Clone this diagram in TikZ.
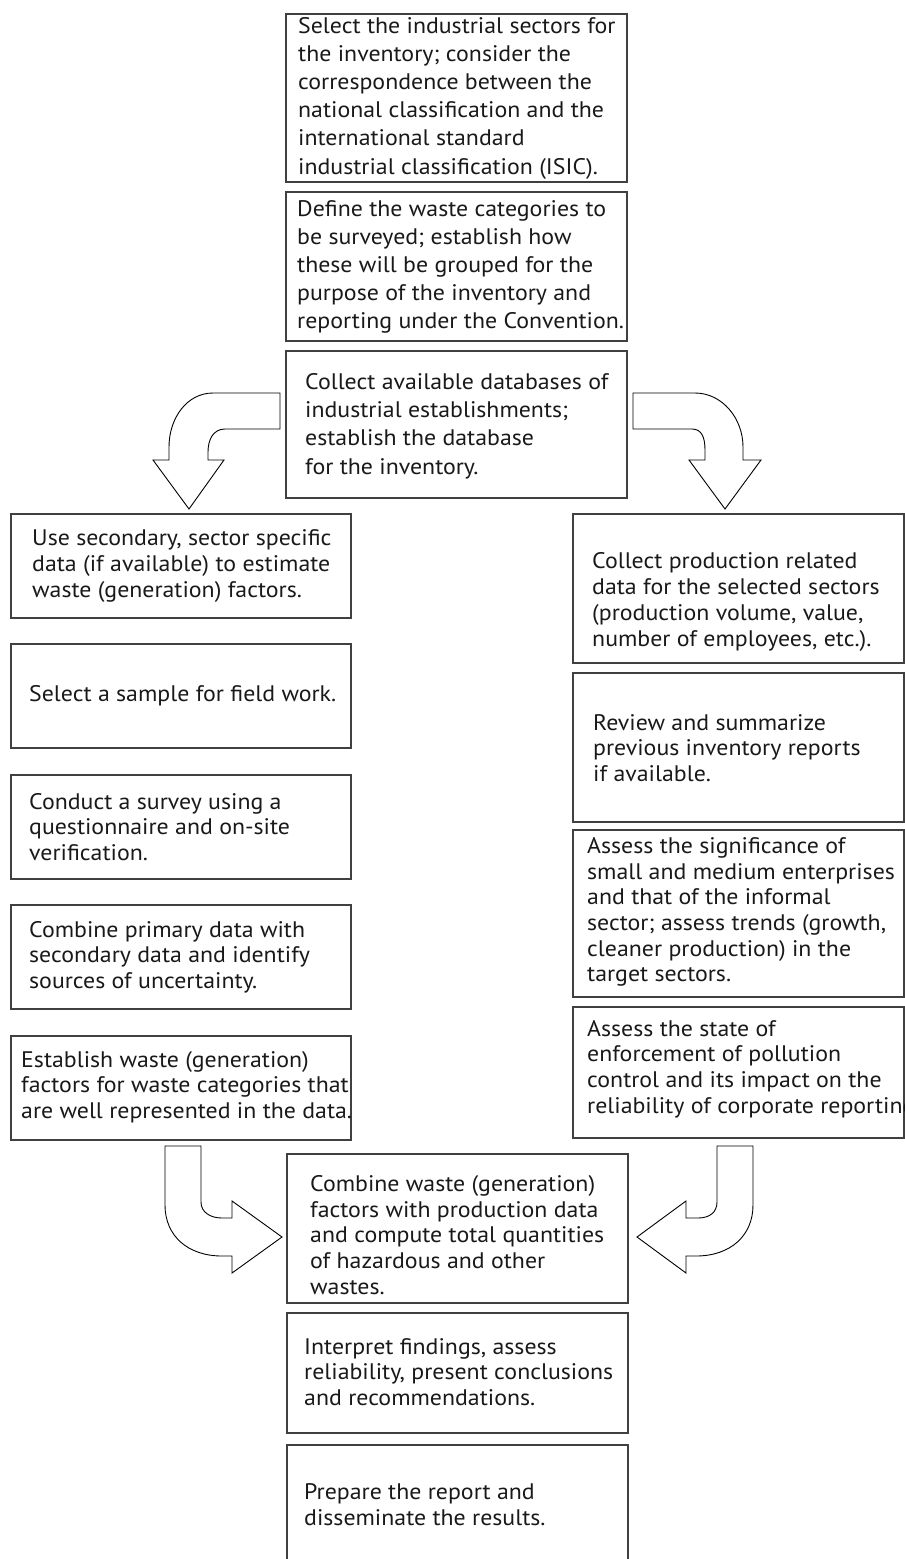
\documentclass[tikz,border=0pt]{standalone}
\usepackage{fontspec}
\setmainfont{PT Sans}[FakeStretch=1.06]
\begin{document}
\begin{tikzpicture}[x=1pt,y=-1pt,
    box/.style={draw=black!75,line width=1.3pt},
    txt/.style={anchor=west,align=left,inner sep=0pt,text=black!90,
      font=\fontsize{22.5}{25.7}\selectfont},
    toptxt/.style={txt,font=\fontsize{22.5}{28.2}\selectfont},
    barrow/.style={draw=black,line width=0.9pt,fill=white,line join=miter}]
  \useasboundingbox (0,0) rectangle (905,1559);

  % middle column, top
  \draw[box] (286,14) rectangle (627,182);
  \node[toptxt] (sectors) at (298,98) {Select the industrial sectors for\\the inventory; consider the\\correspondence between the\\national classification and the\\international standard\\industrial classification (ISIC).};
  \draw[box] (286,192) rectangle (627,341);
  \node[toptxt] (categories) at (297,267) {Define the waste categories to\\be surveyed; establish how\\these will be grouped for the\\purpose of the inventory and\\reporting under the Convention.};
  \draw[box] (286,351) rectangle (627,498);
  \node[toptxt] (database) at (305,426) {Collect available databases of\\industrial establishments;\\establish the database\\for the inventory.};

  % split arrows
  \draw[barrow] (280,393) -- (213,393) .. controls (187,393) and (169,418) .. (169,447)
    -- (169,460) -- (153,460) -- (189,509) -- (224,460) -- (208,460) -- (208,452)
    .. controls (208,440) and (213,429) .. (225,429) -- (280,429) -- cycle;
  \draw[barrow] (633,393) -- (695,393) .. controls (722,393) and (743,418) .. (743,447)
    -- (743,460) -- (761,460) -- (725,509) -- (689,460) -- (705,460) -- (705,450)
    .. controls (705,438) and (702,429) .. (692,429) -- (633,429) -- cycle;

  % left column
  \draw[box] (11,514) rectangle (351,618);
  \node[txt] (secondary) at (32,566) {Use secondary, sector specific\\data (if available) to estimate\\waste (generation) factors.};
  \draw[box] (11,644) rectangle (351,748);
  \node[txt] (sample) at (29,696) {Select a sample for field work.};
  \draw[box] (11,775) rectangle (351,879);
  \node[txt] (survey) at (29,827) {Conduct a survey using a\\questionnaire and on-site\\verification.};
  \draw[box] (11,905) rectangle (351,1009);
  \node[txt] (primary) at (29,957) {Combine primary data with\\secondary data and identify\\sources of uncertainty.};
  \draw[box] (11,1036) rectangle (351,1140);
  \node[txt] (factors) at (21,1087) {Establish waste (generation)\\factors for waste categories that\\are well represented in the data.};

  % right column
  \draw[box] (573,514) rectangle (904,663);
  \node[txt] (production) at (592,602) {Collect production related\\data for the selected sectors\\(production volume, value,\\number of employees, etc.).};
  \draw[box] (573,673) rectangle (904,822);
  \node[txt] (previous) at (593,748) {Review and summarize\\previous inventory reports\\if available.};
  \draw[box] (573,830) rectangle (904,997);
  \node[txt] (significance) at (587,912) {Assess the significance of\\small and medium enterprises\\and that of the informal\\sector; assess trends (growth,\\cleaner production) in the\\target sectors.};
  \draw[box] (573,1007) rectangle (904,1138);
  \node[txt] (enforcement) at (587,1069) {Assess the state of\\enforcement of pollution\\control and its impact on the\\reliability of corporate reporting};

  % merge arrows
  \draw[barrow] (165,1146) -- (201,1146) -- (201,1202) .. controls (201,1212) and (210,1218) .. (222,1218)
    -- (232,1218) -- (232,1201) -- (282,1237) -- (232,1273) -- (232,1256) -- (222,1256)
    .. controls (188,1256) and (165,1236) .. (165,1205) -- cycle;
  \draw[barrow] (717,1146) -- (753,1146) -- (753,1205) .. controls (753,1236) and (730,1256) .. (696,1256)
    -- (686,1256) -- (686,1273) -- (637,1237) -- (686,1201) -- (686,1218) -- (698,1218)
    .. controls (710,1218) and (717,1212) .. (717,1202) -- cycle;

  % middle column, bottom
  \draw[box] (287,1154) rectangle (628,1303);
  \node[txt] (total) at (310,1235) {Combine waste (generation)\\factors with production data\\and compute total quantities\\of hazardous and other\\wastes.};
  \draw[box] (287,1313) rectangle (628,1433);
  \node[txt] (interpret) at (304,1372) {Interpret findings, assess\\reliability, present conclusions\\and recommendations.};
  \draw[box] (287,1445) rectangle (628,1565);
  \node[txt] (report) at (304,1505) {Prepare the report and\\disseminate the results.};
\end{tikzpicture}
\end{document}
